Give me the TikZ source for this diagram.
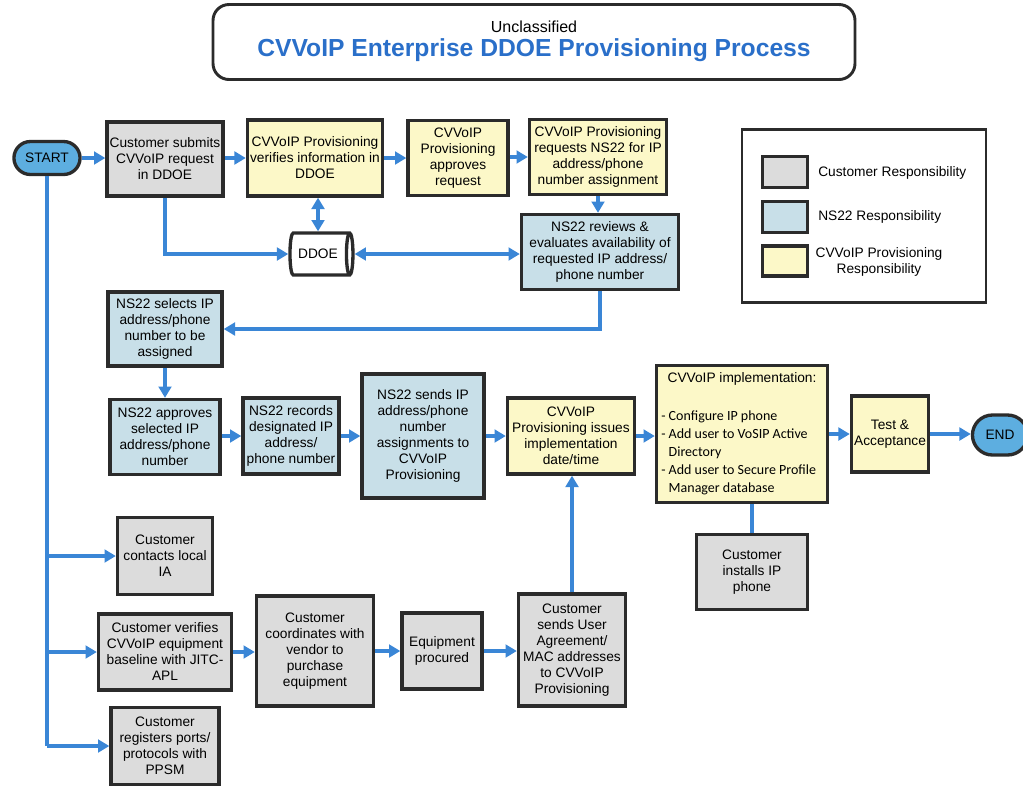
\documentclass[tikz,border=0pt]{standalone}
\usepackage{fontspec}
\setmainfont{Liberation Sans}
\newfontfamily\calib{Carlito}
\usetikzlibrary{shapes.geometric,shapes.misc,arrows.meta}
\definecolor{custg}{HTML}{DCDCDC}
\definecolor{nsb}{HTML}{C8DFE8}
\definecolor{cvy}{HTML}{FCF8C8}
\definecolor{pill}{HTML}{5DAEE0}
\definecolor{arrc}{HTML}{3A86D6}
\definecolor{bord}{HTML}{2B2B2B}
\definecolor{ttl}{HTML}{2A6FC9}
\begin{document}
\begin{tikzpicture}[x=0.75pt,y=-0.75pt,
 box/.style={draw=bord,line width=2.5pt,align=center,inner sep=2pt,font=\fontsize{10.3}{12}\selectfont},
 cust/.style={box,fill=custg},
 ns/.style={box,fill=nsb},
 cv/.style={box,fill=cvy},
 wh/.style 2 args={minimum width=#1*0.75pt,minimum height=#2*0.75pt},
 arr/.style={draw=arrc,line width=2.4pt,-{Triangle[length=8.5pt,width=9.5pt]}},
 darr/.style={draw=arrc,line width=2.4pt,{Triangle[length=8.5pt,width=9.5pt]}-{Triangle[length=8.5pt,width=9.5pt]}},
 pln/.style={draw=arrc,line width=2.4pt},
 term/.style={rounded rectangle,draw=bord,line width=2.5pt,fill=pill,font=\fontsize{10.3}{12}\selectfont},
 lbl/.style={font=\fontsize{10.3}{12}\selectfont,align=center}
]
\useasboundingbox (0,0) rectangle (1023,786);
% title
\node[draw=bord,line width=2.2pt,rounded corners=12pt,wh={642}{75}] (title) at (534,42) {};
\node[font=\fontsize{12}{14}\selectfont] (uncl) at (534,27) {Unclassified};
\node[font=\bfseries\fontsize{18.5}{22}\selectfont,text=ttl] (ttext) at (534,50) {CVVoIP Enterprise DDOE Provisioning Process};
% legend
\node[draw=bord,line width=2.2pt,wh={244}{173}] (legend) at (864,216) {};
\node[cust,wh={45}{31}] (lg1) at (785,172) {};
\node[ns,wh={45}{31}] (lg2) at (785,217) {};
\node[cv,wh={45}{30}] (lg3) at (785,261) {};
\node[lbl,anchor=west,inner sep=0pt] (lt1) at (818,173) {Customer Responsibility};
\node[lbl,anchor=west,inner sep=0pt] (lt2) at (818,217) {NS22 Responsibility};
\node[lbl] (lt3) at (879,262) {CVVoIP Provisioning\\Responsibility};
% top row
\node[term,wh={75}{33}] (start) at (47,158) {START};
\node[cust,wh={114}{74}] (submit) at (165,159) {Customer submits\\CVVoIP request\\in DDOE};
\node[cv,wh={133}{76}] (verify) at (315,158) {CVVoIP Provisioning\\verifies information in\\DDOE};
\node[cv,wh={100}{75}] (approve) at (458,158) {CVVoIP\\Provisioning\\approves\\request};
\node[cv,wh={137}{75}] (reqns) at (598,157) {CVVoIP Provisioning\\requests NS22 for IP\\address/phone\\number assignment};
\node[ns,wh={157}{75}] (review) at (600,252) {NS22 reviews \&\\evaluates availability of\\requested IP address/\\phone number};
\node[cylinder,draw=bord,line width=2.5pt,fill=white,minimum width=42*0.75pt,minimum height=63*0.75pt,aspect=0.35,font=\fontsize{10.3}{12}\selectfont] (ddoe) at (318,254) {DDOE};
% middle
\node[ns,wh={114}{74}] (select) at (165,329) {NS22 selects IP\\address/phone\\number to be\\assigned};
\node[ns,wh={110}{75}] (approvens) at (165,437) {NS22 approves\\selected IP\\address/phone\\number};
\node[ns,wh={96}{76}] (record) at (291,436) {NS22 records\\designated IP\\address/\\phone number};
\node[ns,wh={122}{124}] (send) at (423,436) {NS22 sends IP\\address/phone\\number\\assignments to\\CVVoIP\\Provisioning};
\node[cv,wh={127}{76}] (issue) at (571,436) {CVVoIP\\Provisioning issues\\implementation\\date/time};
\node[cv,wh={171}{137}] (impl) at (742,434) {};
\node[lbl] (impltitle) at (742,379) {CVVoIP implementation:};
\node[font=\calib\fontsize{10.5}{13.5}\selectfont,align=left,anchor=north west,inner sep=0pt] (impllist) at (661,411) {- Configure IP phone\\- Add user to VoSIP Active\\\phantom{- }Directory\\- Add user to Secure Profile\\\phantom{- }Manager database};
\node[cv,wh={76}{76}] (test) at (890,434) {Test \&\\Acceptance};
\node[term,wh={64}{40}] (endn) at (1000,435) {END};
% bottom
\node[cust,wh={95}{77}] (contact) at (165,556) {Customer\\contacts local\\IA};
\node[cust,wh={133}{76}] (cverify) at (165,652) {Customer verifies\\CVVoIP equipment\\baseline with JITC-\\APL};
\node[cust,wh={117}{110}] (coord) at (315,651) {Customer\\coordinates with\\vendor to\\purchase\\equipment};
\node[cust,wh={80}{76}] (procure) at (442,651) {Equipment\\procured};
\node[cust,wh={107}{112}] (sendua) at (572,650) {Customer\\sends User\\Agreement/\\MAC addresses\\to CVVoIP\\Provisioning};
\node[cust,wh={111}{75}] (install) at (752,572) {Customer\\installs IP\\phone};
\node[cust,wh={108}{77}] (register) at (165,746) {Customer\\registers ports/\\protocols with\\PPSM};
% connectors
\draw[arr] (start.east) -- (start.east -| submit.west);
\draw[arr] (submit.east |- verify.east) -- (verify.west);
\draw[arr] (verify.east) -- (approve.west);
\draw[arr] (approve.east |- reqns.west) -- (reqns.west);
\draw[arr] (reqns.south) -- (reqns.south |- review.north);
\draw[arr] (submit.south) |- (ddoe.west);
\draw[darr] (verify.south -| ddoe.north) -- (ddoe.north);
\draw[darr] (ddoe.east) -- (ddoe.east -| review.west);
\draw[arr] (review.south) |- (select.east);
\draw[arr] (select.south) -- (approvens.north);
\draw[arr] (approvens.east |- record.west) -- (record.west);
\draw[arr] (record.east) -- (send.west);
\draw[arr] (send.east) -- (issue.west);
\draw[arr] (issue.east) -- (issue.east -| impl.west);
\draw[arr] (impl.east) -- (test.west);
\draw[arr] (test.east) -- (test.east -| endn.west);
\draw[arr] (sendua.north) -- (sendua.north |- issue.south);
\draw[pln] (install.north) -- (install.north |- impl.south);
\draw[arr] (cverify.east) -- (cverify.east -| coord.west);
\draw[arr] (coord.east |- procure.west) -- (procure.west);
\draw[arr] (procure.east) -- (procure.east -| sendua.west);
\draw[pln] (start.south) -- (start.south |- register.west);
\draw[arr] (start.south |- contact.west) -- (contact.west);
\draw[arr] (start.south |- cverify.west) -- (cverify.west);
\draw[arr] (start.south |- register.west) -- (register.west);
\end{tikzpicture}
\end{document}
